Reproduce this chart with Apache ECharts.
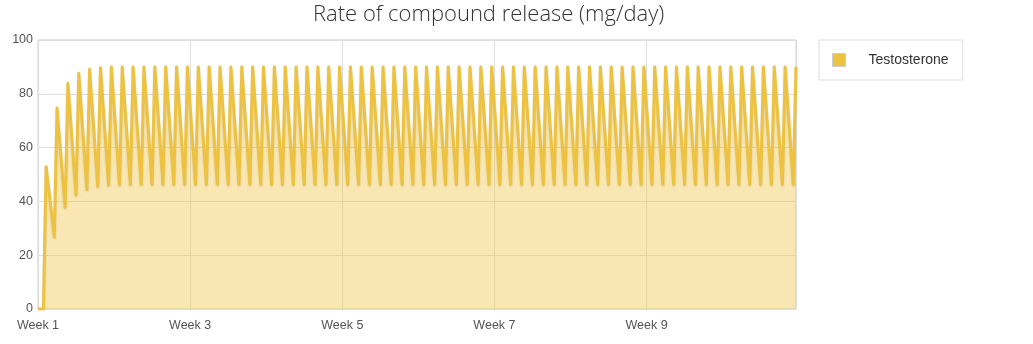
<!DOCTYPE html>
<html>
<head>
<meta charset="utf-8">
<script src="https://cdn.jsdelivr.net/npm/echarts@6/dist/echarts.min.js"></script>
<style>
  html, body { margin: 0; padding: 0; background: #fff; }
  #chart { width: 1033px; height: 344px; }
</style>
</head>
<body>
<div id="chart"></div>
<script>
// Release rate of a daily dosed compound, in mg/day, over ten weeks.
const seriesName = 'Testosterone';

// Level before the first dose (days, mg/day)
const leadDays = [0, 0.5];
const leadValues = [0, 0];

// Daily dose: each day peaks at day + 0.75, then falls to its trough at day + 1.5
const peakOffset = 0.75;
const troughOffset = 1.5;

const peakValues = [
  52.9, 74.7, 83.9, 87.6, 89.1, 89.7, 90.0, 90, 90, 90,
  90, 90, 90, 90, 90, 90, 90, 90, 90, 90,
  90, 90, 90, 90, 90, 90, 90, 90, 90, 90,
  90, 90, 90, 90, 90, 90, 90, 90, 90, 90,
  90, 90, 90, 90, 90, 90, 90, 90, 90, 90,
  90, 90, 90, 90, 90, 90, 90, 90, 90, 90,
  90, 90, 90, 90, 90, 90, 90, 90, 90, 90
];

const troughValues = [
  26.8, 37.8, 42.4, 44.4, 45.6, 46.0, 46.2, 46.3, 46.3, 46.3,
  46.3, 46.3, 46.3, 46.3, 46.3, 46.3, 46.3, 46.3, 46.3, 46.3,
  46.3, 46.3, 46.3, 46.3, 46.3, 46.3, 46.3, 46.3, 46.3, 46.3,
  46.3, 46.3, 46.3, 46.3, 46.3, 46.3, 46.3, 46.3, 46.3, 46.3,
  46.3, 46.3, 46.3, 46.3, 46.3, 46.3, 46.3, 46.3, 46.3, 46.3,
  46.3, 46.3, 46.3, 46.3, 46.3, 46.3, 46.3, 46.3, 46.3, 46.3,
  46.3, 46.3, 46.3, 46.3, 46.3, 46.3, 46.3, 46.3, 46.3
];

// x-axis tick labels, one every two weeks
const weekLabels = ['Week 1', 'Week 3', 'Week 5', 'Week 7', 'Week 9'];
const yTicks = [0, 20, 40, 60, 80, 100];

// Build the [day, value] series
const points = [];
leadDays.forEach((d, i) => points.push([d, leadValues[i]]));
peakValues.forEach((v, i) => {
  points.push([i + peakOffset, v]);
  if (i < troughValues.length) points.push([i + troughOffset, troughValues[i]]);
});
const lastDay = peakValues.length - 1 + peakOffset;

const labelFont = '"Liberation Sans", Arial, sans-serif';

const chart = echarts.init(document.getElementById('chart'), null, { renderer: 'canvas' });
chart.setOption({
  animation: false,
  backgroundColor: '#fff',
  title: {
    text: 'Rate of compound release (mg/day)',
    left: 313,
    top: 4,
    padding: 0,
    textStyle: {
      fontFamily: '"Open Sans", sans-serif',
      fontWeight: 300,
      fontSize: 22,
      color: '#333'
    }
  },
  legend: {
    data: [seriesName],
    left: 819,
    top: 40,
    orient: 'vertical',
    padding: [13, 14, 13, 13],
    borderColor: '#ddd',
    borderWidth: 1,
    borderRadius: 0,
    icon: 'rect',
    itemWidth: 13,
    itemHeight: 13,
    itemStyle: { borderColor: '#ccc', borderWidth: 1 },
    selectedMode: false,
    textStyle: {
      fontFamily: labelFont,
      fontSize: 14,
      color: '#333',
      padding: [0, 0, 0, 18]
    }
  },
  grid: {
    left: 38,
    right: 237,
    top: 40,
    bottom: 35,
    show: true,
    borderColor: '#ccc',
    borderWidth: 1,
    containLabel: false
  },
  xAxis: {
    type: 'value',
    min: 0,
    max: lastDay,
    interval: 14,
    axisLine: { show: false },
    axisTick: { show: false },
    splitLine: { show: true, lineStyle: { color: '#dedede', width: 1 } },
    axisLabel: {
      showMaxLabel: false,
      margin: 10,
      fontFamily: labelFont,
      fontSize: 12.5,
      color: '#545454',
      formatter: (v) => weekLabels[Math.round(v / 14)] || ''
    }
  },
  yAxis: {
    type: 'value',
    min: yTicks[0],
    max: yTicks[yTicks.length - 1],
    interval: yTicks[1] - yTicks[0],
    axisLine: { show: false },
    axisTick: { show: false },
    splitLine: { show: true, lineStyle: { color: '#dedede', width: 1 } },
    axisLabel: {
      margin: 5,
      fontFamily: labelFont,
      fontSize: 12.5,
      color: '#545454'
    }
  },
  series: [{
    name: seriesName,
    type: 'line',
    data: points,
    showSymbol: false,
    symbol: 'none',
    color: '#edc240',
    lineStyle: {
      color: '#edc240',
      width: 3,
      join: 'round',
      shadowColor: 'rgba(0,0,0,0.12)',
      shadowBlur: 2,
      shadowOffsetY: 1
    },
    areaStyle: { color: '#edc240', opacity: 0.4 },
    emphasis: { disabled: true },
    silent: true
  }]
});
</script>
</body>
</html>
